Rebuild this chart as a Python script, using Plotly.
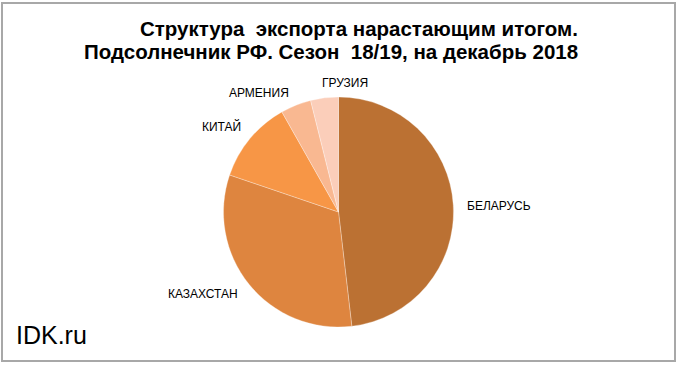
import plotly.graph_objects as go

countries = ["БЕЛАРУСЬ", "КАЗАХСТАН", "КИТАЙ", "АРМЕНИЯ", "ГРУЗИЯ"]
shares = [48.2, 32.1, 11.6, 4.3, 3.9]
colors = ["#BB7133", "#DE853F", "#F79646", "#F9B891", "#FBCEBA"]
title_lines = ["Структура\u00a0 экспорта нарастающим итогом.",
               "Подсолнечник РФ. Сезон\u00a0 18/19, на декабрь 2018"]
watermark = "IDK.ru"

W, H = 680, 367
label_pos = [(498.7, 206), (203.3, 293.5), (221.7, 126.7), (259, 93), (344.5, 82.7)]
title_y = [29, 52]

fig = go.Figure(go.Pie(
    labels=countries, values=shares, sort=False, direction="clockwise", rotation=0,
    marker=dict(colors=colors, line=dict(color="rgba(255,255,255,0.6)", width=0.5)),
    textinfo="none", hoverinfo="label+percent", showlegend=False,
    domain=dict(x=[223.5 / W, 453.5 / W], y=[(H - 327) / H, (H - 97) / H]),
))

annotations = []
for name, (px, py) in zip(countries, label_pos):
    annotations.append(dict(x=px / W, y=1 - py / H, xref="paper", yref="paper",
                            text=name, showarrow=False, xanchor="center", yanchor="middle",
                            font=dict(family="Liberation Sans, Arial", size=12, color="#000")))
for line, ty in zip(title_lines, title_y):
    annotations.append(dict(x=580 / W, y=1 - ty / H, xref="paper", yref="paper",
                            text="<b>" + line + "</b>", showarrow=False,
                            xanchor="right", yanchor="middle",
                            font=dict(family="Liberation Sans, Arial", size=20.5, color="#000")))
annotations.append(dict(x=14 / W, y=1 - 335 / H, xref="paper", yref="paper",
                        text=watermark, showarrow=False, xanchor="left", yanchor="middle",
                        font=dict(family="Liberation Sans, Arial", size=25, color="#000")))

fig.update_layout(
    width=W, height=H, margin=dict(l=0, r=0, t=0, b=0),
    paper_bgcolor="white", plot_bgcolor="white",
    annotations=annotations,
    shapes=[dict(type="rect", xref="paper", yref="paper",
                 x0=2 / W, x1=675 / W, y0=1 - 361 / H, y1=1 - 3 / H,
                 line=dict(color="#A8A8A8", width=2), fillcolor="rgba(0,0,0,0)")],
)

fig.write_html("out.html", config={"displayModeBar": False},
               post_script="document.body.style.margin='0';document.body.style.overflow='hidden';")
